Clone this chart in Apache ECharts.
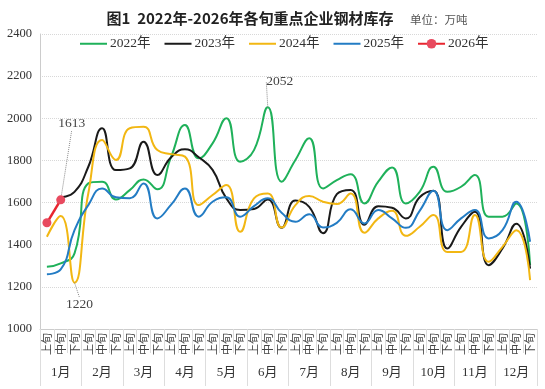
<!DOCTYPE html>
<html><head><meta charset="utf-8">
<script src="https://cdn.jsdelivr.net/npm/echarts@6/dist/echarts.min.js"></script>
<style>html,body{margin:0;padding:0;background:#fff}#c{width:545px;height:389px}</style>
</head><body><div id="c"></div>
<script>
const xunLabels = ['上旬','中旬','下旬'];
const months = ['1月','2月','3月','4月','5月','6月','7月','8月','9月','10月','11月','12月'];
const yTicks = {min:1000, max:2400, step:200};
const s2022 = [1295,1311,1359,1691,1699,1615,1659,1710,1663,1818,1968,1810,1881,2000,1794,1849,2052,1699,1802,1905,1667,1707,1735,1596,1699,1767,1596,1651,1770,1651,1675,1731,1533,1533,1596,1303];
const s2023 = [null,1625,1651,1770,1953,1754,1762,1889,1731,1815,1853,1815,1755,1620,1565,1570,1615,1480,1610,1580,1455,1640,1660,1495,1582,1575,1525,1625,1656,1382,1485,1556,1303,1382,1500,1287];
const s2024 = [1438,1536,1220,1644,1897,1802,1953,1960,1849,1830,1818,1588,1636,1683,1461,1620,1643,1482,1588,1631,1604,1593,1643,1457,1525,1561,1442,1485,1541,1366,1366,1541,1319,1390,1469,1232];
const s2025 = [1260,1283,1469,1588,1667,1625,1620,1691,1525,1590,1667,1533,1604,1625,1533,1583,1620,1552,1509,1545,1482,1504,1568,1501,1565,1525,1480,1561,1656,1469,1525,1565,1430,1469,1604,1414];
const s2026 = [1504,1613];
const names = ['2022年','2023年','2024年','2025年','2026年'];

const cats = [];
months.forEach(()=>xunLabels.forEach(x=>cats.push(x)));
const serif = "'Liberation Serif','Noto Sans CJK SC',serif";
const lblStyle = {show:true, color:'#444', fontSize:13.5, fontFamily:serif};
function mark(arr, idx, pos){
  return arr.map((v,i)=> i===idx ? {value:v, label:Object.assign({position:pos}, lblStyle), labelLine:{show:true, lineStyle:{type:'dotted', color:'#888', width:1}}} : v);
}
function layout(offsets){
  return function(p){ const o = offsets[p.dataIndex]; return o ? {dx:o[0], dy:o[1]} : {}; };
}
const chart = echarts.init(document.getElementById('c'));
const plain = {symbol:'circle', symbolSize:0, showSymbol:true, smooth:0.5, type:'line'};
chart.setOption({
  animation:false,
  title:[
    {text:'图1  2022年-2026年各旬重点企业钢材库存', left:245, top:6, textAlign:'center',
     textStyle:{fontSize:15, fontWeight:'bold', color:'#222', fontFamily:"'Noto Sans CJK SC',sans-serif"}},
    {text:'单位：万吨', left:405, top:9, textStyle:{fontSize:11.5, fontWeight:'normal', color:'#555', fontFamily:"'Noto Sans CJK SC',sans-serif"}}
  ],
  legend:{left:74, top:32, itemWidth:27, itemHeight:12, itemGap:13,
    textStyle:{fontSize:13.5, color:'#333', fontFamily:serif, padding:[0,0,0,-2]},
    data:[
      {name:names[0], itemStyle:{opacity:0}},
      {name:names[1], itemStyle:{opacity:0}},
      {name:names[2], itemStyle:{opacity:0}},
      {name:names[3], itemStyle:{opacity:0}},
      {name:names[4]}
    ]},
  grid:{left:40, right:8, top:34, bottom:60},
  xAxis:[
    {type:'category', data:cats, boundaryGap:true, position:'bottom',
     axisLine:{show:true, lineStyle:{color:'#ccc'}},
     axisTick:{show:true, interval:0, length:24, lineStyle:{color:'#ddd'}},
     axisLabel:{interval:0, rotate:90, fontSize:11, margin:4, color:'#444', fontFamily:"'Noto Sans CJK SC',sans-serif"}},
    {type:'category', data:months, boundaryGap:true, position:'bottom',
     axisLine:{show:false},
     axisTick:{show:true, interval:0, length:57, lineStyle:{color:'#ddd'}},
     axisLabel:{interval:0, fontSize:13, margin:37, color:'#333', fontFamily:serif}}
  ],
  yAxis:{type:'value', min:yTicks.min, max:yTicks.max, interval:yTicks.step,
    axisLine:{show:true, lineStyle:{color:'#ccc'}}, axisTick:{show:false},
    splitLine:{lineStyle:{type:'dotted', color:'#d8d8d8'}},
    axisLabel:{fontSize:12.5, color:'#333', margin:8, fontFamily:serif, formatter:v=>String(v)}},
  series:[
    Object.assign({name:names[0], data:mark(s2022,16,'top'),
     labelLayout:layout({16:[12,-14]}),
     lineStyle:{width:2, color:'#1fb15a'}, itemStyle:{color:'#1fb15a'}}, plain),
    Object.assign({name:names[1], data:s2023,
     lineStyle:{width:2, color:'#1a1a1a'}, itemStyle:{color:'#1a1a1a'}}, plain),
    Object.assign({name:names[2], data:mark(s2024,2,'bottom'),
     labelLayout:layout({2:[5,10]}),
     lineStyle:{width:2, color:'#f2b713'}, itemStyle:{color:'#f2b713'}}, plain),
    Object.assign({name:names[3], data:s2025,
     lineStyle:{width:2, color:'#237cc4'}, itemStyle:{color:'#237cc4'}}, plain),
    {name:names[4], type:'line', smooth:false, symbol:'circle', symbolSize:9, data:mark(s2026,1,'top'),
     labelLayout:layout({1:[11,-60]}),
     lineStyle:{width:2.5, color:'#e8262f'}, itemStyle:{color:'#e84a5f'}}
  ]
});
</script></body></html>
